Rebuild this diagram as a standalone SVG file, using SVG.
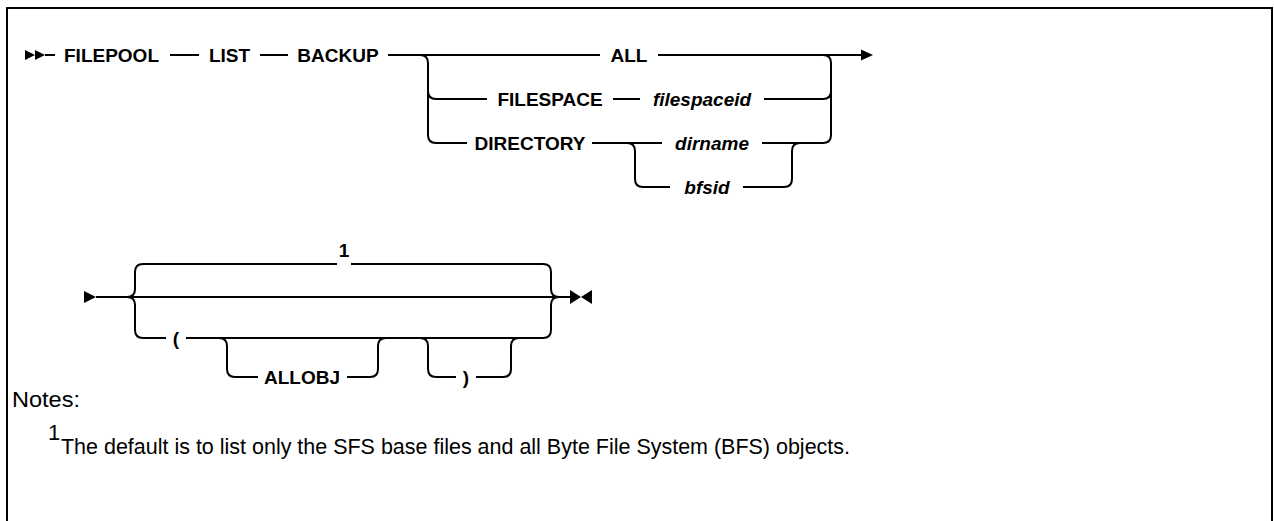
<svg xmlns="http://www.w3.org/2000/svg" width="1274" height="521" viewBox="0 0 1274 521">
<style>
.ln{fill:none;stroke:#000;stroke-width:2}
.kw{font-family:"Liberation Sans",Arial,sans-serif;font-weight:bold;font-size:19px;fill:#000;text-anchor:middle}
.var{font-style:italic}
.note{font-family:"Liberation Sans",Arial,sans-serif;font-size:22px;fill:#000}
.mk{fill:#000}
</style>
<rect width="1274" height="521" fill="#fff"/>
<path class="ln" d="M7,521 V8 H1272 V521"/>
<g id="connectors">
<path class="mk" d="M25,50 L35,55 L25,60 Z M35,50 L45,55 L35,60 Z"/>
<path class="ln" d="M45,55 H55 M170,55 H199 M260,55 H288 M388,55 H600 M658,55 H862"/>
<path class="mk" d="M861,49.5 L873,55 L861,60.5 Z"/>
<path class="ln" d="M420,55 q8,0 8,8 V135 q0,8 8,8 H467 M428,91 q0,8 8,8 H487"/>
<path class="ln" d="M613,99 H640 M764,99 H823 q8,0 8,-8 M823,55 q8,0 8,8 V135 q0,8 -8,8"/>
<path class="ln" d="M592,143 H662 M627,143 q8,0 8,8 V179 q0,8 8,8 H670 M762,143 H823 M743,187 H784 q8,0 8,-8 V151 q0,-8 8,-8"/>
<path class="mk" d="M84,291 L96,297 L84,303 Z"/>
<path class="ln" d="M96,297 H570"/>
<path class="ln" d="M127,297 q8,0 8,-8 V272 q0,-8 8,-8 H337 M351,264 H543 q8,0 8,8 V289 q0,8 8,8"/>
<path class="ln" d="M127,297 q8,0 8,8 V330 q0,8 8,8 H166 M186,338 H543 q8,0 8,-8 V305 q0,-8 8,-8"/>
<path class="ln" d="M219,338 q8,0 8,8 V369 q0,8 8,8 H258 M347,377 H370 q8,0 8,-8 V346 q0,-8 8,-8"/>
<path class="ln" d="M420,338 q8,0 8,8 V369 q0,8 8,8 H456 M476,377 H503 q8,0 8,-8 V346 q0,-8 8,-8"/>
<path class="mk" d="M570,290 L581,297 L592,290 V304 L581,297 L570,304 Z"/>
</g>
<g id="n-filepool"><text class="kw" x="111.5" y="62">FILEPOOL</text></g>
<g id="n-list"><text class="kw" x="229.5" y="62">LIST</text></g>
<g id="n-backup"><text class="kw" x="338" y="62">BACKUP</text></g>
<g id="n-all"><text class="kw" x="629" y="62">ALL</text></g>
<g id="n-filespace"><text class="kw" x="550" y="106">FILESPACE</text></g>
<g id="n-filespaceid"><text class="kw var" x="702" y="106">filespaceid</text></g>
<g id="n-directory"><text class="kw" x="530" y="150">DIRECTORY</text></g>
<g id="n-dirname"><text class="kw var" x="712" y="150">dirname</text></g>
<g id="n-bfsid"><text class="kw var" x="707" y="194">bfsid</text></g>
<g id="n-note1"><text class="kw" x="344" y="257">1</text></g>
<g id="n-lparen"><text class="kw" x="176" y="345">(</text></g>
<g id="n-allobj"><text class="kw" x="302" y="384">ALLOBJ</text></g>
<g id="n-rparen"><text class="kw" x="466" y="384">)</text></g>
<g id="notes">
<text class="note" x="12" y="407" textLength="68" lengthAdjust="spacingAndGlyphs">Notes:</text>
<text class="note" x="48" y="440" font-size="15">1</text>
<text class="note" x="61" y="454" textLength="789" lengthAdjust="spacingAndGlyphs">The default is to list only the SFS base files and all Byte File System (BFS) objects.</text>
</g>
</svg>
